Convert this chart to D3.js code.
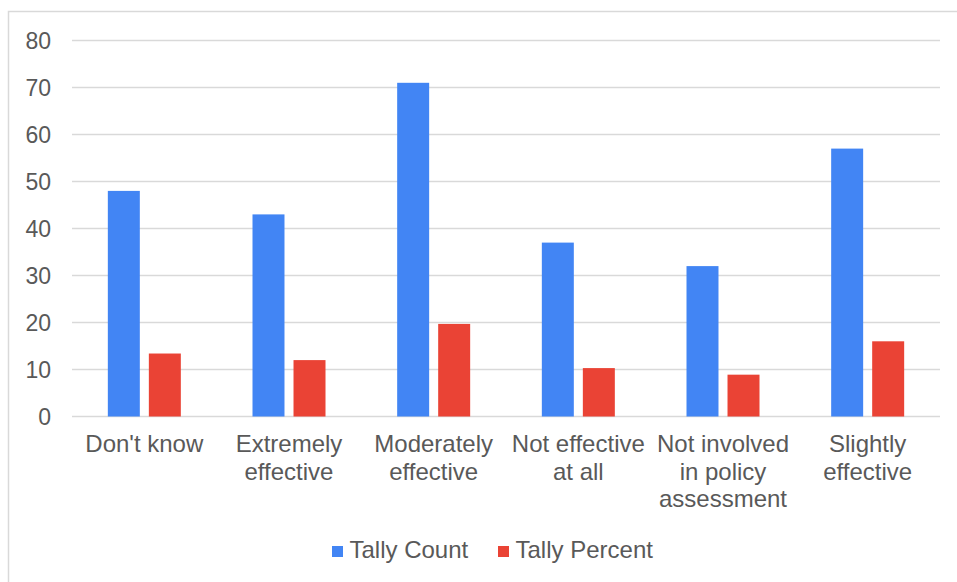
<!DOCTYPE html>
<html>
<head>
<meta charset="utf-8">
<script src="https://cdn.jsdelivr.net/npm/d3@7"></script>
<style>
  html, body { margin: 0; padding: 0; background: #fff; }
  svg { display: block; font-family: "Liberation Sans", Arial, sans-serif; }
</style>
</head>
<body>
<svg id="chart" width="957" height="582"></svg>
<script>
// Response categories (multi-line labels split on "\n")
const categories = [
  "Don't know",
  "Extremely\neffective",
  "Moderately\neffective",
  "Not effective\nat all",
  "Not involved\nin policy\nassessment",
  "Slightly\neffective"
];
const seriesNames = ["Tally Count", "Tally Percent"];
const tallyCount = [48, 43, 71, 37, 32, 57];
const tallyPercent = [13.4, 12.0, 19.7, 10.3, 8.9, 16.0];
const yTicks = [0, 10, 20, 30, 40, 50, 60, 70, 80];
const colors = ["#4285F4", "#EA4335"];

const svg = d3.select("#chart");
const textColor = "#595959";
const gridColor = "#d9d9d9";
const tickFont = 23;
const labelFont = 24;

// outer frame
svg.append("rect")
  .attr("x", 8.5).attr("y", 11.5)
  .attr("width", 1000).attr("height", 1000)
  .attr("fill", "none").attr("stroke", gridColor).attr("stroke-width", 1.5);

const plot = { left: 72, right: 940, top: 40.5, bottom: 416.5 };

const x = d3.scaleBand().domain(categories).range([plot.left, plot.right]).padding(0);
const groupWidth = 73;
const xs = d3.scaleBand().domain(seriesNames).range([0, groupWidth]).paddingInner(0.22).paddingOuter(0);
const y = d3.scaleLinear().domain([0, 80]).range([plot.bottom, plot.top]);

// horizontal gridlines
svg.append("g").selectAll("line").data(yTicks).join("line")
  .attr("x1", plot.left).attr("x2", plot.right)
  .attr("y1", d => y(d)).attr("y2", d => y(d))
  .attr("stroke", gridColor).attr("stroke-width", 1.5);

// y axis labels
const yAxis = d3.axisLeft(y).tickValues(yTicks).tickSize(0).tickPadding(0);
const yg = svg.append("g").attr("transform", `translate(51,0)`).call(yAxis);
yg.select(".domain").remove();
yg.selectAll("text")
  .attr("font-size", tickFont).attr("fill", textColor)
  .attr("font-family", "'Liberation Sans', Arial, sans-serif")
  .attr("dy", "0.36em");

// bars
const rows = categories.map((c, i) => ({ c, vals: [tallyCount[i], tallyPercent[i]] }));
const groups = svg.append("g").selectAll("g").data(rows).join("g")
  .attr("transform", d => `translate(${x(d.c) + x.bandwidth() / 2 - groupWidth / 2},0)`);
groups.selectAll("rect")
  .data(d => d.vals.map((v, j) => ({ name: seriesNames[j], v, j })))
  .join("rect")
  .attr("x", d => xs(d.name))
  .attr("width", xs.bandwidth())
  .attr("y", d => y(d.v))
  .attr("height", d => y(0) - y(d.v))
  .attr("fill", d => colors[d.j]);

// category labels
const labels = svg.append("g").selectAll("text").data(categories).join("text")
  .attr("x", d => x(d) + x.bandwidth() / 2)
  .attr("y", 452)
  .attr("text-anchor", "middle")
  .attr("font-size", labelFont)
  .attr("fill", textColor);
labels.selectAll("tspan").data(d => d.split("\n")).join("tspan")
  .attr("x", function () { return d3.select(this.parentNode).attr("x"); })
  .attr("dy", (d, i) => i === 0 ? 0 : 27.5)
  .text(d => d);

// legend
const legendItems = [
  { name: seriesNames[0], color: colors[0], x: 332 },
  { name: seriesNames[1], color: colors[1], x: 498 }
];
const lg = svg.append("g").selectAll("g").data(legendItems).join("g")
  .attr("transform", d => `translate(${d.x},0)`);
lg.append("rect").attr("x", 0).attr("y", 546).attr("width", 11).attr("height", 11)
  .attr("fill", d => d.color);
lg.append("text").attr("x", 17.5).attr("y", 558)
  .attr("font-size", labelFont).attr("fill", textColor)
  .text(d => d.name);
</script>
</body>
</html>
